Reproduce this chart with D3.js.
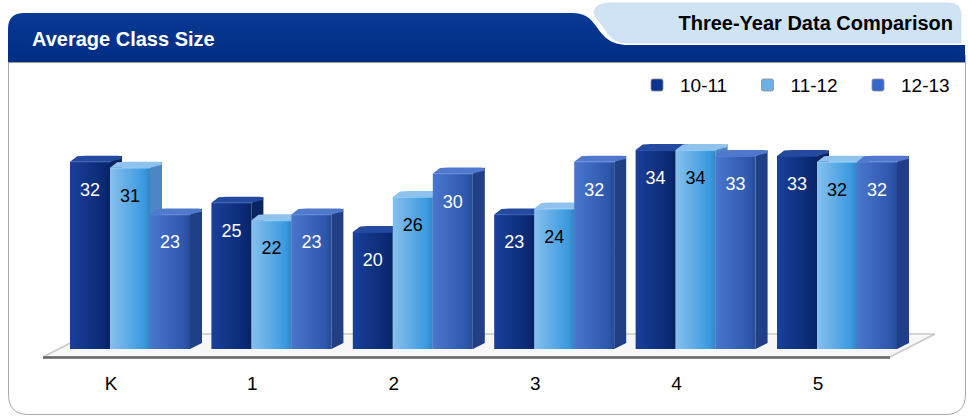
<!DOCTYPE html>
<html>
<head>
<meta charset="utf-8">
<script src="https://cdn.jsdelivr.net/npm/d3@7/dist/d3.min.js"></script>
<style>
  html, body { margin: 0; padding: 0; background: #fff; }
  svg { display: block; font-family: "Liberation Sans", Arial, Helvetica, sans-serif; }
</style>
</head>
<body>
<svg id="chart" width="968" height="418"></svg>
<script>
// ---- data ----
const categories = ["K", "1", "2", "3", "4", "5"];
const seriesNames = ["10-11", "11-12", "12-13"];
const values1011 = [32, 25, 20, 23, 34, 33];
const values1112 = [31, 22, 26, 24, 34, 32];
const values1213 = [23, 23, 30, 32, 33, 32];
const seriesValues = [values1011, values1112, values1213];

const titleText = "Average Class Size";
const tabText = "Three-Year Data Comparison";

// ---- styles ----
const styles = [
  { legend: "#0b3590", left: "#1a409a", right: "#0a2973", side: "#0a2462", top: "#234a9f", label: "#fff" },
  { legend: "#6cb0e8", left: "#86c0ee", right: "#3b99df", side: "#4d86c4", top: "#8fc3ee", label: "#000" },
  { legend: "#3668cc", left: "#4a76cd", right: "#2d57ac", side: "#213f86", top: "#5078cc", label: "#fff" }
];

const svg = d3.select("#chart");
const defs = svg.append("defs");
styles.forEach((s, i) => {
  const g = defs.append("linearGradient").attr("id", "grad" + i)
    .attr("x1", "0").attr("x2", "1").attr("y1", "0").attr("y2", "0");
  g.append("stop").attr("offset", "0").attr("stop-color", s.left);
  g.append("stop").attr("offset", "0.85").attr("stop-color", s.right);
  g.append("stop").attr("offset", "1").attr("stop-color", d3.color(s.right).darker(0.4));
});
const hdrShadow = defs.append("linearGradient").attr("id", "hdr")
  .attr("x1", "0").attr("x2", "0").attr("y1", "0").attr("y2", "1");
hdrShadow.append("stop").attr("offset", "0").attr("stop-color", "#0a3a94");
hdrShadow.append("stop").attr("offset", "1").attr("stop-color", "#002d84");

// ---- card ----
svg.append("path")
  .attr("d", "M8.5,55 V394 Q8.5,414.5 28,414.5 H945 Q965.5,414.5 965.5,394 V55")
  .attr("fill", "#fff").attr("stroke", "#a8a8a8").attr("stroke-width", 1);

// dark header band
svg.append("path")
  .attr("d", "M8,62 V29 Q8,13 24,13 H572 C585,13 590,18 596,26 C603,36 610,45 628,45 H965 V62 Z")
  .attr("fill", "url(#hdr)");
// light tab
svg.append("path")
  .attr("d", "M961,43 H628 C614,43 609,36 604,28 C599,20 592,16 595,9 Q598,3 610,3 H949 Q961,3 961,15 Z")
  .attr("fill", "#cfe3f5").attr("stroke", "#c2d9ef").attr("stroke-width", 0.6);
svg.append("line").attr("x1", 8).attr("x2", 965).attr("y1", 62.5).attr("y2", 62.5)
  .attr("stroke", "#9a9a9a").attr("stroke-width", 1);

svg.append("text").attr("x", 32).attr("y", 46).text(titleText)
  .attr("fill", "#fff").attr("font-weight", "bold").attr("font-size", 20);
svg.append("text").attr("x", 953).attr("y", 30).attr("text-anchor", "end").text(tabText)
  .attr("fill", "#000").attr("font-weight", "bold").attr("font-size", 20);

// ---- legend ----
const legX = d3.scalePoint().domain(seriesNames).range([651, 872]);
const leg = svg.append("g").selectAll("g").data(seriesNames).join("g")
  .attr("transform", d => `translate(${legX(d)},79)`);
leg.append("rect").attr("width", 12).attr("height", 12).attr("rx", 2)
  .attr("fill", (d, i) => styles[i].legend).attr("stroke", "#8a8a8a").attr("stroke-width", 0.8);
leg.append("text").attr("x", 29).attr("y", 12.5).text(d => d)
  .attr("font-size", 19).attr("fill", "#000");

// ---- scales ----
const baseY = 349;
const y = d3.scaleLinear().domain([0, 40]).range([baseY, baseY - 234]);
const x0 = d3.scaleBand().domain(categories).range([70, 897]).paddingInner(0.1513).paddingOuter(0);
const x1 = d3.scaleBand().domain(seriesNames).range([0, x0.bandwidth()]);
const dx = 12, dy = 6;

// ---- floor ----
const floorG = svg.append("g");
floorG.append("path")
  .attr("d", "M43,357 L88,334 H935 L890,357 Z")
  .attr("fill", "#f7f7f7").attr("stroke", "#c8c8c8").attr("stroke-width", 1.5);
floorG.append("line").attr("x1", 43).attr("x2", 890).attr("y1", 357.5).attr("y2", 357.5)
  .attr("stroke", "#666").attr("stroke-width", 2.5);

// ---- bars ----
const groups = svg.append("g").selectAll("g").data(categories).join("g")
  .attr("transform", d => `translate(${x0(d)},0)`);

groups.each(function(cat, ci) {
  const g = d3.select(this);
  seriesNames.forEach((s, si) => {
    const v = seriesValues[si][ci];
    const bx = x1(s), bw = x1.bandwidth(), ty = y(v);
    const st = styles[si];
    // shadow on floor
    g.append("path")
      .attr("d", `M${bx},${baseY} L${bx + bw},${baseY} L${bx + bw + dx},${baseY - dy} L${bx + dx},${baseY - dy} Z`)
      .attr("fill", "#ddd").attr("opacity", 0.6);
    // side face
    g.append("path")
      .attr("d", `M${bx + bw},${ty} L${bx + bw + dx},${ty - dy} L${bx + bw + dx},${baseY - dy} L${bx + bw},${baseY} Z`)
      .attr("fill", st.side);
    // top face
    g.append("path")
      .attr("d", `M${bx},${ty} L${bx + dx * 0.6},${ty - dy + 0.5} Q${bx + dx},${ty - dy} ${bx + dx + 3},${ty - dy} L${bx + bw + dx - 4},${ty - dy} Q${bx + bw + dx},${ty - dy} ${bx + bw + dx},${ty - dy + 3} L${bx + bw},${ty} Z`)
      .attr("fill", st.top);
    // front face
    g.append("rect").attr("x", bx).attr("y", ty).attr("width", bw).attr("height", baseY - ty)
      .attr("fill", `url(#grad${si})`);
    // highlight line at top
    g.append("line").attr("x1", bx + 1).attr("x2", bx + bw).attr("y1", ty + 0.5).attr("y2", ty + 0.5)
      .attr("stroke", d3.color(st.top).brighter(0.4)).attr("stroke-width", 1).attr("opacity", 0.6);
    // value label
    g.append("text").attr("x", bx + bw / 2).attr("y", ty + 34)
      .attr("text-anchor", "middle").attr("font-size", 18).attr("fill", st.label).text(v);
  });
});

// ---- category labels ----
svg.append("g").selectAll("text").data(categories).join("text")
  .attr("x", d => x0(d) + 41).attr("y", 390)
  .attr("text-anchor", "middle").attr("font-size", 19).attr("fill", "#000").text(d => d);
</script>
</body>
</html>
